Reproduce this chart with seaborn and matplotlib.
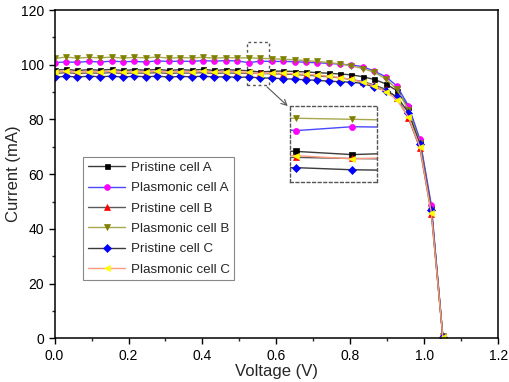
import numpy as np
import pandas as pd
import seaborn as sns
import matplotlib.pyplot as plt
from matplotlib.patches import Rectangle
from matplotlib.ticker import MultipleLocator

# voltage sweep points (V)
voltage = [0.000, 0.031, 0.062, 0.093, 0.124, 0.154, 0.185, 0.216, 0.247, 0.278,
           0.309, 0.340, 0.371, 0.401, 0.432, 0.463, 0.494, 0.525, 0.556, 0.587,
           0.618, 0.649, 0.679, 0.710, 0.741, 0.772, 0.803, 0.834, 0.865, 0.896,
           0.926, 0.957, 0.988, 1.019, 1.050]

# currents (mA)
pristine_a = [98.0, 98.3, 97.9, 98.2, 98.0, 98.3, 97.9, 98.2, 98.0, 98.3,
              97.9, 98.2, 98.0, 98.3, 97.9, 98.2, 98.0, 97.8, 97.35, 97.6,
              97.7, 97.5, 97.4, 97.1, 96.9, 96.6, 96.3, 95.6, 94.6, 93.0,
              90.5, 84.5, 72.0, 47.5, 0.8]
plasmonic_a = [100.8, 101.0, 100.9, 101.2, 101.0, 101.3, 101.1, 101.2, 101.0, 101.4,
               101.2, 101.3, 101.2, 101.5, 101.3, 101.5, 101.4, 100.75, 101.3, 101.2,
               101.2, 101.1, 100.9, 100.7, 100.5, 100.2, 99.9, 99.3, 97.6, 95.6,
               92.2, 85.0, 72.8, 48.7, 0.8]
pristine_b = [96.8, 97.1, 96.8, 97.0, 96.9, 97.1, 96.8, 97.0, 96.9, 97.1,
              96.8, 97.0, 96.9, 97.1, 96.8, 97.0, 96.9, 96.95, 96.8, 96.7,
              96.6, 96.4, 96.2, 95.9, 95.6, 95.2, 94.6, 93.8, 92.6, 91.0,
              88.0, 80.5, 69.5, 45.5, 0.5]
plasmonic_b = [102.3, 102.8, 102.4, 102.7, 102.5, 102.8, 102.4, 102.7, 102.5, 102.8,
               102.4, 102.6, 102.5, 102.7, 102.4, 102.6, 102.5, 102.5, 102.35, 102.2,
               102.0, 101.8, 101.5, 101.2, 100.8, 100.3, 99.6, 98.6, 97.2, 94.8,
               91.0, 83.5, 71.5, 46.5, 0.8]
pristine_c = [95.4, 95.8, 95.5, 95.8, 95.6, 95.8, 95.5, 95.8, 95.6, 95.8,
              95.5, 95.7, 95.6, 95.8, 95.5, 95.6, 95.4, 95.5, 95.2, 95.1,
              94.9, 94.7, 94.5, 94.3, 94.0, 93.8, 93.6, 93.2, 91.8, 90.5,
              88.3, 82.5, 71.0, 47.0, 0.5]
plasmonic_c = [97.3, 97.6, 97.3, 97.5, 97.4, 97.6, 97.3, 97.5, 97.4, 97.6,
               97.3, 97.5, 97.4, 97.6, 97.3, 97.5, 97.4, 97.2, 96.75, 97.0,
               96.9, 96.7, 96.5, 96.2, 95.8, 95.3, 94.6, 93.6, 92.2, 90.2,
               87.2, 80.8, 70.0, 45.8, 0.5]

labels = ['Pristine cell A', 'Plasmonic cell A', 'Pristine cell B',
          'Plasmonic cell B', 'Pristine cell C', 'Plasmonic cell C']
series = [pristine_a, plasmonic_a, pristine_b, plasmonic_b, pristine_c, plasmonic_c]
line_colors = ['#3c3c3c', '#4848ff', '#5a5a5a', '#a8a850', '#3a3a3a', '#ff9a80']
marker_colors = ['#000000', '#ff00ff', '#ff0000', '#808000', '#0000ff', '#ffff00']
markers = ['s', 'o', '^', 'v', 'D', '<']
msizes = [3.6, 4.2, 4.2, 4.6, 3.8, 4.6]

sns.set_style('ticks')
plt.rcParams['font.family'] = ['Liberation Sans', 'DejaVu Sans']

fig = plt.figure(figsize=(5.1, 3.82), dpi=100)
ax = fig.add_axes([0.107, 0.1144, 0.870, 0.8594])


def draw(axis, size_scale=1.0, with_label=True):
    for y, lab, lc, mc, mk, ms in zip(series, labels, line_colors, marker_colors, markers, msizes):
        df = pd.DataFrame({'V': voltage, 'I': y})
        sns.lineplot(data=df, x='V', y='I', ax=axis, color=lc, lw=1.0,
                     marker=mk, markersize=ms * size_scale, markerfacecolor=mc,
                     markeredgecolor=mc, markeredgewidth=0.5,
                     label=lab if with_label else None, legend=False)


draw(ax)

ax.set_xlim(0, 1.2)
ax.set_ylim(0, 120)
ax.xaxis.set_major_locator(MultipleLocator(0.2))
ax.xaxis.set_minor_locator(MultipleLocator(0.1))
ax.yaxis.set_major_locator(MultipleLocator(20))
ax.yaxis.set_minor_locator(MultipleLocator(10))
ax.set_xticklabels([f'{v:.1f}' for v in ax.get_xticks()])
ax.tick_params(which='major', direction='out', length=4, width=1, labelsize=10, colors='black')
ax.tick_params(which='minor', direction='out', length=2.5, width=1)
for s in ax.spines.values():
    s.set_color('black')
    s.set_linewidth(1.1)
ax.set_xlabel('Voltage (V)', fontsize=12, labelpad=1)
ax.set_ylabel('Current (mA)', fontsize=12, labelpad=0)

leg = ax.legend(loc='upper left', bbox_to_anchor=(0.065, 0.552), fontsize=9.6,
                frameon=True, fancybox=False, edgecolor='#888888', framealpha=1,
                handlelength=2.8, handletextpad=0.4, labelspacing=0.6,
                borderpad=0.35, borderaxespad=0)
leg.get_frame().set_linewidth(0.8)

# dashed box marking the zoomed region and the arrow to the inset
ax.add_patch(Rectangle((0.52, 92.6), 0.06, 15.7, fill=False, ls=(0, (2, 2)),
                       lw=1, ec='#555555'))
ax.annotate('', xy=(0.636, 84.2), xytext=(0.569, 92.6),
            arrowprops=dict(arrowstyle='->', color='#555555', lw=0.8))

# inset
ins = fig.add_axes([0.5686, 0.5236, 0.1706, 0.199])
draw(ins, size_scale=1.05, with_label=False)
ins.set_xlim(0.5214, 0.5698)
ins.set_ylim(93.47, 104.24)
ins.set_xticks([])
ins.set_yticks([])
ins.set_xlabel('')
ins.set_ylabel('')
for s in ins.spines.values():
    s.set_linestyle((0, (2, 2)))
    s.set_color('#555555')
    s.set_linewidth(1)

fig.savefig('out.png', dpi=100)
